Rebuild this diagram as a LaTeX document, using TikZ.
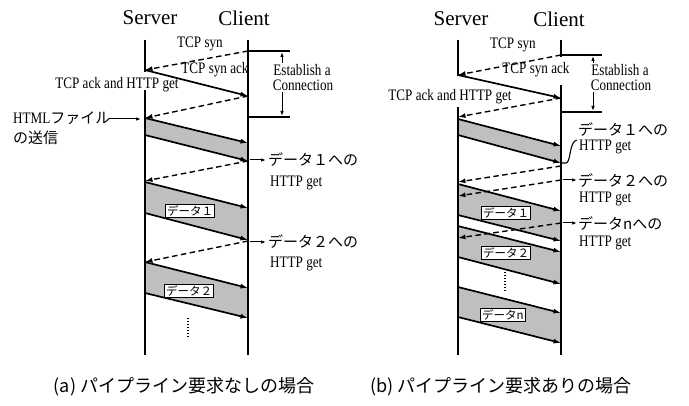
\documentclass[tikz,border=0pt]{standalone}
\usepackage{fontspec}
\setmainfont{Liberation Serif}
\newfontfamily\jp{Noto Sans CJK JP}
\newfontfamily\lat[FakeStretch=0.82]{Liberation Serif}
\usetikzlibrary{arrows.meta}
\begin{document}
\begin{tikzpicture}[x=1pt,y=-1pt,
  life/.style={line width=1.1pt},
  msg/.style={line width=1.7pt,-{Latex[length=7.5pt,width=5pt]}},
  req/.style={line width=1.4pt,dash pattern=on 5.5pt off 3.5pt,-{Latex[length=7.5pt,width=5pt]}},
  band/.style={fill=black!25,draw=none},
  plain/.style={line width=1.1pt},
  small/.style={line width=1pt,-{Latex[length=5pt,width=3.6pt]}},
  head/.style={font=\fontsize{21}{21}\selectfont, inner sep=0pt},
  lbl/.style={font=\lat\fontsize{16}{16}\selectfont, inner sep=0pt},
  est/.style={font=\lat\fontsize{16}{15}\selectfont, inner sep=0pt, align=center},
  jlbl/.style={font=\jp\fontsize{15}{16}\selectfont, inner sep=0pt, anchor=west},
  glbl/.style={font=\lat\fontsize{16}{16}\selectfont, inner sep=0pt, anchor=west},
  dbox/.style={draw, fill=white, line width=1pt, font=\jp\fontsize{11.5}{12}\selectfont, inner sep=1.5pt},
  vdots/.style={line width=1.5pt, dash pattern=on 1.4pt off 1.6pt},
  captxt/.style={font=\jp\fontsize{18}{18}\selectfont, inner sep=0pt}
]
\useasboundingbox (0,0) rectangle (689,406);
\fill[white] (0,0) rectangle (689,406);

% ================= (a) =================
\coordinate (aS0) at (145,40); \coordinate (aS1) at (145,72);
\coordinate (aS2) at (145,90); \coordinate (aS3) at (145,355);
\coordinate (aC0) at (248,40); \coordinate (aC3) at (248,355);

\coordinate (a1c) at (248,51);  \coordinate (a1s) at (145,70);
\coordinate (a2c) at (248,96);  \coordinate (a3s) at (145,118);
\coordinate (ah1s) at (145,118); \coordinate (ah1c) at (248,143);
\coordinate (ah2s) at (145,135); \coordinate (ah2c) at (248,161);
\coordinate (ag1c) at (248,161); \coordinate (ag1s) at (145,181);
\coordinate (ad1a) at (145,182); \coordinate (ad1b) at (248,208);
\coordinate (ad1c) at (145,213); \coordinate (ad1d) at (248,240);
\coordinate (ag2c) at (248,241); \coordinate (ag2s) at (145,262);
\coordinate (ad2a) at (145,262); \coordinate (ad2b) at (248,288);
\coordinate (ad2c) at (145,293); \coordinate (ad2d) at (248,318);

% bands
\fill[band] (ah1s) -- (ah1c) -- (ah2c) -- (ah2s) -- cycle;
\fill[band] (ad1a) -- (ad1b) -- (ad1d) -- (ad1c) -- cycle;
\fill[band] (ad2a) -- (ad2b) -- (ad2d) -- (ad2c) -- cycle;

% lifelines
\draw[life] (aS0) -- (aS1);
\draw[life] (aS2) -- (aS3);
\draw[life] (aC0) -- (aC3);

% messages
\draw[req] (a1c) -- (a1s);
\draw[msg] (a1s) -- (a2c);
\draw[req] (a2c) -- (a3s);
\draw[msg] (ah1s) -- (ah1c);
\draw[msg] (ah2s) -- (ah2c);
\draw[req] (ag1c) -- (ag1s);
\draw[msg] (ad1a) -- (ad1b);
\draw[msg] (ad1c) -- (ad1d);
\draw[req] (ag2c) -- (ag2s);
\draw[msg] (ad2a) -- (ad2b);
\draw[msg] (ad2c) -- (ad2d);

% bracket
\coordinate (aBt) at (290,51); \coordinate (aBb) at (290,117);
\coordinate (aBbl) at (248,117);
\draw[plain] (a1c) -- (aBt);
\draw[plain] (aBbl) -- (aBb);
\node[est] (aEst1) at (302,70) {Establish a};
\node[est] (aEst2) at (303,85) {Connection};
\coordinate (aAu0) at (282,63); \coordinate (aAu1) at (282,52);
\coordinate (aAd0) at (282,92); \coordinate (aAd1) at (282,116);
\draw[small] (aAu0) -- (aAu1);
\draw[small] (aAd0) -- (aAd1);

% labels
\node[head] (aSrv) at (150,18) {Server};
\node[head] (aCli) at (244,18) {Client};
\node[lbl] (aSyn) at (200,44) {TCP syn};
\node[lbl] (aSynAck) at (215,70) {TCP syn ack};
\node[lbl] (aAck) at (117,85) {TCP ack and HTTP get};

\node[font=\jp\fontsize{15}{16}\selectfont, inner sep=0pt, anchor=west] (aHtml) at (13,118) {{\lat\fontsize{16}{16}\selectfont HTML}ファイル};
\node[jlbl] (aSend) at (13,138) {の送信};
\coordinate (aH0) at (109,119); \coordinate (aHa) at (141,119);
\draw[small] (aH0) -- (aHa);

\coordinate (aL1) at (250,160); \coordinate (aL1e) at (266,160);
\draw[small] (aL1) -- (aL1e);
\node[jlbl] (aD1t) at (268,160) {データ１への};
\node[glbl] (aD1g) at (270,183) {HTTP get};
\coordinate (aL2) at (250,242); \coordinate (aL2e) at (266,242);
\draw[small] (aL2) -- (aL2e);
\node[jlbl] (aD2t) at (268,242) {データ２への};
\node[glbl] (aD2g) at (270,264) {HTTP get};

\node[dbox] (aB1) at (190,211) {データ１};
\node[dbox] (aB2) at (189,291) {データ２};
\coordinate (aDot0) at (188,318); \coordinate (aDot1) at (188,339);
\draw[vdots] (aDot0) -- (aDot1);

\node[captxt] (aCap) at (184,387) {(a) パイプライン要求なしの場合};

% ================= (b) =================
\coordinate (bS0) at (458,40); \coordinate (bS1) at (458,76);
\coordinate (bS2) at (458,107); \coordinate (bS3) at (458,355);
\coordinate (bC0) at (561,40); \coordinate (bC1) at (561,57);
\coordinate (bC2) at (561,85); \coordinate (bC3) at (561,355);

\coordinate (b1c) at (561,55);  \coordinate (b1s) at (458,75);
\coordinate (b2c) at (561,98);  \coordinate (b3s) at (458,117);
\coordinate (bh1s) at (458,119); \coordinate (bh1c) at (561,146);
\coordinate (bh2s) at (458,135); \coordinate (bh2c) at (561,163);
\coordinate (bg1c) at (561,166); \coordinate (bg1s) at (458,182);
\coordinate (bg2c) at (561,180); \coordinate (bg2s) at (458,196);
\coordinate (bgnc) at (561,223); \coordinate (bgns) at (458,238);
\coordinate (bd1a) at (458,184); \coordinate (bd1b) at (561,211);
\coordinate (bd1c) at (458,215); \coordinate (bd1d) at (561,241);
\coordinate (bd2a) at (458,226); \coordinate (bd2b) at (561,252);
\coordinate (bd2c) at (458,257); \coordinate (bd2d) at (561,284);
\coordinate (bdna) at (458,287); \coordinate (bdnb) at (561,313);
\coordinate (bdnc) at (458,317); \coordinate (bdnd) at (561,343);

\fill[band] (bh1s) -- (bh1c) -- (bh2c) -- (bh2s) -- cycle;
\fill[band] (bd1a) -- (bd1b) -- (bd1d) -- (bd1c) -- cycle;
\fill[band] (bd2a) -- (bd2b) -- (bd2d) -- (bd2c) -- cycle;
\fill[band] (bdna) -- (bdnb) -- (bdnd) -- (bdnc) -- cycle;

\draw[life] (bS0) -- (bS1);
\draw[life] (bS2) -- (bS3);
\draw[life] (bC0) -- (bC1);
\draw[life] (bC2) -- (bC3);

\draw[req] (b1c) -- (b1s);
\draw[msg] (b1s) -- (b2c);
\draw[req] (b2c) -- (b3s);
\draw[msg] (bh1s) -- (bh1c);
\draw[msg] (bh2s) -- (bh2c);
\draw[req] (bg1c) -- (bg1s);
\draw[req] (bg2c) -- (bg2s);
\draw[req] (bgnc) -- (bgns);
\draw[msg] (bd1a) -- (bd1b);
\draw[msg] (bd1c) -- (bd1d);
\draw[msg] (bd2a) -- (bd2b);
\draw[msg] (bd2c) -- (bd2d);
\draw[msg] (bdna) -- (bdnb);
\draw[msg] (bdnc) -- (bdnd);

% bracket
\coordinate (bBt) at (602,55); \coordinate (bBb) at (602,112);
\coordinate (bBbl) at (561,112);
\draw[plain] (b1c) -- (bBt);
\draw[plain] (bBbl) -- (bBb);
\node[est] (bEst1) at (620,70) {Establish a};
\node[est] (bEst2) at (621,85) {Connection};
\coordinate (bAu0) at (593,63); \coordinate (bAu1) at (593,56);
\coordinate (bAd0) at (593,92); \coordinate (bAd1) at (593,111);
\draw[small] (bAu0) -- (bAu1);
\draw[small] (bAd0) -- (bAd1);

\node[head] (bSrv) at (461,19) {Server};
\node[head] (bCli) at (559,19) {Client};
\node[lbl] (bSyn) at (513,45) {TCP syn};
\node[lbl] (bSynAck) at (536,70) {TCP syn ack};
\node[lbl] (bAck) at (450,97) {TCP ack and HTTP get};

% curved bracket to label of data 1
\coordinate (bCv0) at (566,163); \coordinate (bCv1) at (577,140);
\draw[plain] (bh2c) -- (bCv0) .. controls (571,163) and (569,141) .. (bCv1);
\node[jlbl] (bD1t) at (578,130) {データ１への};
\node[glbl] (bD1g) at (579,147) {HTTP get};

\coordinate (bL2) at (563,180); \coordinate (bL2e) at (577,180);
\draw[small] (bL2) -- (bL2e);
\node[jlbl] (bD2t) at (578,181) {データ２への};
\node[glbl] (bD2g) at (579,199) {HTTP get};
\coordinate (bLn) at (563,223); \coordinate (bLne) at (577,223);
\draw[small] (bLn) -- (bLne);
\node[jlbl] (bDnt) at (578,224) {データnへの};
\node[glbl] (bDng) at (579,243) {HTTP get};

\node[dbox] (bB1) at (506,213) {データ１};
\node[dbox] (bB2) at (506,253) {データ２};
\node[dbox] (bBn) at (503,315) {データn};
\coordinate (bDot0) at (505,272); \coordinate (bDot1) at (505,291);
\draw[vdots] (bDot0) -- (bDot1);

\node[captxt] (bCap) at (501,387) {(b) パイプライン要求ありの場合};
\end{tikzpicture}
\end{document}
